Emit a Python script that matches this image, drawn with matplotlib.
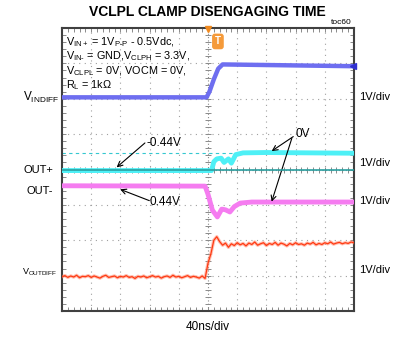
import numpy as np
import matplotlib
matplotlib.use("Agg")
import matplotlib.pyplot as plt

plt.rcParams['font.family'] = ['Liberation Sans', 'DejaVu Sans']
plt.rcParams['mathtext.fontset'] = 'custom'
plt.rcParams['mathtext.rm'] = 'Liberation Sans'
plt.rcParams['mathtext.it'] = 'Liberation Sans'

# ---- data (screen divisions: x 0..10, y 0..8) ----
vin_t = [0.0, 4.95, 5.05, 5.2, 5.35, 5.5, 10.0]
vin_v = [6.04, 6.04, 6.2, 6.55, 6.85, 6.97, 6.92]

outp_t = [0.0, 5.12, 5.2, 5.3, 5.45, 5.55, 5.7, 5.8, 5.95, 6.2, 7.0, 10.0]
outp_v = [3.97, 3.97, 4.22, 4.3, 4.32, 4.2, 4.3, 4.18, 4.42, 4.47, 4.48, 4.46]

outm_t = [0.0, 4.9, 5.0, 5.15, 5.32, 5.47, 5.6, 5.75, 5.9, 6.1, 6.5, 10.0]
outm_v = [3.54, 3.53, 3.3, 2.85, 2.66, 2.88, 2.86, 2.8, 2.95, 3.05, 3.08, 3.08]

vout_t = np.arange(0, 101) * 0.1
vout_v = [0.97, 1.00, 0.95, 0.99, 0.96, 1.01, 0.94, 0.98, 0.97, 1.00,
          0.95, 0.99, 0.96, 0.93, 0.98, 1.01, 0.95, 0.97, 0.99, 0.94,
          0.98, 0.96, 1.00, 0.95, 0.97, 0.92, 0.98, 0.96, 0.99, 0.94,
          0.97, 1.00, 0.96, 0.98, 0.93, 0.97, 0.99, 0.95, 1.01, 0.96,
          0.98, 0.94, 0.97, 1.00, 0.95, 0.98, 0.96, 0.93, 0.99, 0.92,
          1.35, 1.62, 2.00, 2.10, 1.96, 1.86, 1.92, 1.80, 1.90, 1.85,
          1.93, 1.87, 1.91, 1.84, 1.92, 1.88, 1.95, 1.86, 1.90, 1.93,
          1.85, 1.91, 1.88, 1.94, 1.86, 1.92, 1.89, 1.84, 1.91, 1.87,
          1.93, 1.88, 1.90, 1.86, 1.92, 1.89, 1.94, 1.87, 1.91, 1.88,
          1.93, 1.90, 1.95, 1.89, 1.92, 1.94, 1.90, 1.93, 1.91, 1.95, 1.93]

outp_ref = 4.0
outp_dash = 4.46

left_labels = [r'V$_{\mathrm{INDIFF}}$', 'OUT+', 'OUT-', r'V$_{\mathrm{OUTDIFF}}$']
scale_label = '1V/div'

W, H = 393, 348
fig = plt.figure(figsize=(W / 100, H / 100), dpi=100)
ax = fig.add_axes([62 / W, 1 - 311 / H, 292 / W, 283 / H])
ax.set_xlim(0, 10)
ax.set_ylim(0, 8)

# grid
for gx in range(1, 10):
    if gx != 5:
        ax.axvline(gx, color='#a0a0a0', lw=0.8, ls=(0, (1, 4)), zorder=1)
for gy in range(1, 8):
    if gy != 4:
        ax.axhline(gy, color='#a0a0a0', lw=0.8, ls=(0, (1, 4)), zorder=1)
ax.axvline(5, color='#8a8a8a', lw=0.8, ls=(0, (1, 2)), zorder=1)
ax.axhline(4, color='#8a8a8a', lw=0.8, ls=(0, (1, 2)), zorder=1)
minor = np.arange(0, 51) * 0.2
ax.plot(minor, [4] * len(minor), ls='none', marker='|', ms=4, mew=0.7, color='#8a8a8a', zorder=1)
ax.plot([5] * 41, minor[:41], ls='none', marker='_', ms=4, mew=0.7, color='#8a8a8a', zorder=1)

# traces
ax.plot(vin_t, vin_v, color='#6e6ef0', lw=3.2, solid_joinstyle='round', zorder=3)
ax.axhline(outp_dash, color='#35c8d0', lw=0.8, ls=(0, (3, 3)), zorder=2)
ax.plot(outp_t, outp_v, color='#4ef0f6', lw=3.5, solid_joinstyle='round', zorder=3)
ax.axhline(outp_ref, color='#2a9fa0', lw=1.2, zorder=4)
ax.plot(outm_t, outm_v, color='#f57cf0', lw=3.5, solid_joinstyle='round', zorder=3)
ax.plot(vout_t, vout_v, color='#ff8a70', lw=2.4, alpha=0.55, zorder=3)
ax.plot(vout_t, vout_v, color='#ff3a12', lw=0.9, zorder=3)

# markers
ax.plot([5], [7.96], marker='v', ms=5, color='#f08a20', clip_on=False, zorder=6)
ax.plot([9.95], [6.93], marker='<', ms=4.5, color='#3030d0', clip_on=False, zorder=6)
ax.text(5.34, 7.62, 'T', color='white', fontsize=7, fontweight='bold', ha='center', va='center',
        bbox=dict(boxstyle='round,pad=0.22', fc='#f59a3a', ec='#f59a3a'), zorder=6)

# ticks on frame
ax.set_xticks(np.arange(0, 11))
ax.set_yticks(np.arange(0, 9))
ax.set_xticks(np.arange(0, 51) * 0.2, minor=True)
ax.set_yticks(np.arange(0, 41) * 0.2, minor=True)
ax.tick_params(which='both', direction='in', length=3, width=0.7, color='#8a8a8a',
               top=True, right=True, labelbottom=False, labelleft=False)
for s in ax.spines.values():
    s.set_color('#404040')
    s.set_linewidth(1.5)

# annotation block
info = [r'V$_{\mathrm{IN+}}$ = 1V$_{\mathrm{P\text{-}P}}$ - 0.5Vdc,',
        r'V$_{\mathrm{IN\text{-}}}$ = GND,V$_{\mathrm{CLPH}}$ = 3.3V,',
        r'V$_{\mathrm{CLPL}}$ = 0V, VOCM = 0V,',
        r'R$_{\mathrm{L}}$ = 1k$\Omega$']
for i, line in enumerate(info):
    fig.text(66 / W, 1 - (42 + 14.5 * i) / H, line, fontsize=7.8, va='center', ha='left')

# arrows
arr = dict(arrowstyle='->', color='black', lw=0.8, shrinkA=0, shrinkB=0, mutation_scale=9)
ax.annotate('', xy=(1.87, 4.06), xytext=(2.84, 4.75), arrowprops=arr)
ax.annotate('', xy=(1.99, 3.44), xytext=(2.99, 3.12), arrowprops=arr)
ax.annotate('', xy=(7.18, 4.52), xytext=(7.92, 4.93), arrowprops=arr)
ax.annotate('', xy=(7.18, 3.09), xytext=(7.87, 4.88), arrowprops=arr)
ax.text(2.88, 4.75, '-0.44V', fontsize=8.5, va='center', ha='left')
ax.text(3.01, 3.09, '0.44V', fontsize=8.5, va='center', ha='left')
ax.text(7.98, 5.0, '0V', fontsize=8.5, va='center', ha='left')

# title etc
fig.text(207 / W, 1 - 12 / H, 'VCLPL CLAMP DISENGAGING TIME', fontsize=10, fontweight='bold',
         ha='center', va='center')
fig.text(352 / W, 1 - 23 / H, 'toc60', fontsize=6, ha='right', va='center')
fig.text(208 / W, 1 - 327 / H, '40ns/div', fontsize=8.5, ha='center', va='center')

left_y = [97, 170, 191, 272]
left_x = [59, 53, 53, 57]
left_fs = [8.5, 8, 8, 6.5]
for lab, yy, xx, fs in zip(left_labels, left_y, left_x, left_fs):
    fig.text(xx / W, 1 - yy / H, lab, fontsize=fs, ha='right', va='center')
for yy in [97, 163, 201, 270]:
    fig.text(359 / W, 1 - yy / H, scale_label, fontsize=8, ha='left', va='center')

fig.savefig('out.png', dpi=100)
